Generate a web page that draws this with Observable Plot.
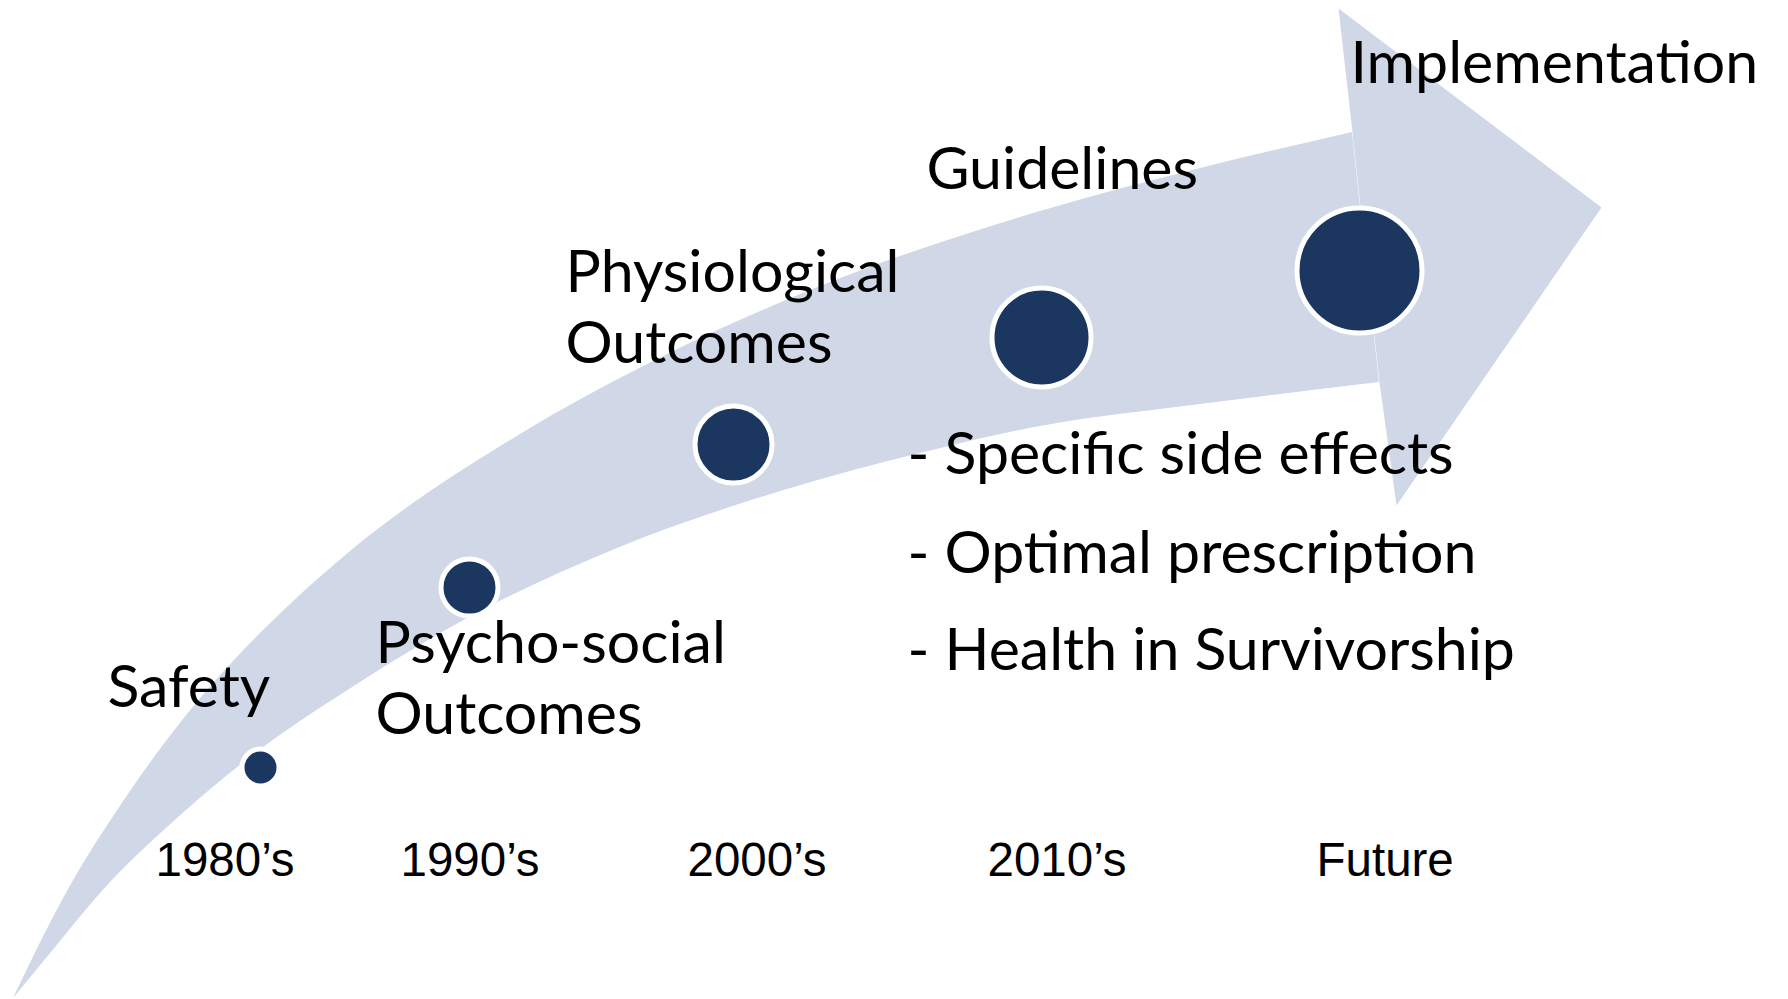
<!DOCTYPE html>
<html>
<head>
<meta charset="utf-8">
<script src="https://cdn.jsdelivr.net/npm/d3@7"></script>
<script src="https://cdn.jsdelivr.net/npm/@observablehq/plot@0.6"></script>
<style>
  html, body { margin: 0; padding: 0; background: #ffffff; }
  #chart svg { display: block; }
</style>
</head>
<body>
<div id="chart"></div>
<script>
// ---- Data (frame of 1788 × 999, y pointing down) ----
// Curved arrow: upper and lower edges of the shaft, then the arrow head
const upperEdgeX = [13, 62, 130, 187, 233, 290, 350, 520, 653, 820, 1040, 1200, 1352];
const upperEdgeY = [998, 900, 791, 714, 661, 604, 551, 434, 361, 286, 211, 168, 132];
const lowerEdgeX = [13, 60, 100, 177, 250, 360, 467, 617, 787, 920, 1040, 1200, 1379];
const lowerEdgeY = [998, 941, 893, 818, 757, 682, 618, 548, 489, 453, 426, 404, 382];
const headX = [1352, 1338, 1601, 1396, 1379];
const headY = [132, 8, 207, 505, 382];

// Timeline periods
const periods = ["1980’s", "1990’s", "2000’s", "2010’s", "Future"];
const periodX = [155, 400, 687, 987, 1316];
const periodY = [875, 875, 875, 875, 875];

// Milestones (circles grow over time)
const milestones = ["Safety", "Psycho-social\nOutcomes", "Physiological\nOutcomes", "Guidelines", "Implementation"];
const milestoneX = [260, 469, 733, 1041, 1359];
const milestoneY = [767, 587, 444, 337, 270];
const milestoneSize = [16, 26, 36, 47, 60];
const labelX = [107, 375, 565, 926, 1350];
const labelY = [706, 733, 362, 188, 82];

// Bullet list under "Guidelines"
const bullets = ["- Specific side effects", "- Optimal prescription", "- Health in Survivorship"];
const bulletX = [907, 907, 907];
const bulletY = [473, 572, 669];

// ---- Build tables ----
const shaft = upperEdgeX.map((x, i) => ({x1: x, y1: upperEdgeY[i], x2: lowerEdgeX[i], y2: lowerEdgeY[i]}));
const head = headX.map((x, i) => ({x, y: headY[i]}));
const dots = milestones.map((m, i) => ({name: m, x: milestoneX[i], y: milestoneY[i], size: milestoneSize[i]}));
const labelRows = milestones.map((m, i) => ({text: m, x: labelX[i], y: labelY[i]}));
const periodRows = periods.map((p, i) => ({text: p, x: periodX[i], y: periodY[i]}));
const bulletRows = bullets.map((b, i) => ({text: b, x: bulletX[i], y: bulletY[i]}));

const arrowFill = "#D0D8E8";
const dotFill = "#1B375F";
const labelFont = "Lato, 'Open Sans', sans-serif";

const chart = Plot.plot({
  width: 1788,
  height: 999,
  margin: 0,
  x: {domain: [0, 1788], range: [0, 1788], axis: null},
  y: {domain: [0, 999], range: [0, 999], axis: null},
  r: {type: "identity"},
  style: {background: "#ffffff", overflow: "visible"},
  marks: [
    Plot.area(shaft, {x1: "x1", y1: "y1", x2: "x2", y2: "y2", fill: arrowFill, curve: "monotone-x"}),
    Plot.line(head, {x: "x", y: "y", fill: arrowFill, stroke: "none", curve: "linear-closed"}),
    Plot.dot(dots, {x: "x", y: "y", r: d => d.size + 2.5, fill: dotFill, stroke: "#ffffff", strokeWidth: 5}),
    Plot.text(labelRows, {x: "x", y: "y", text: "text", textAnchor: "start", lineAnchor: "bottom",
      lineHeight: 1.19, fontFamily: labelFont, fontSize: 59, fill: "#000000"}),
    Plot.text(bulletRows, {x: "x", y: "y", text: "text", textAnchor: "start", lineAnchor: "bottom",
      fontFamily: labelFont, fontSize: 59, fill: "#000000"}),
    Plot.text(periodRows, {x: "x", y: "y", text: "text", textAnchor: "start", lineAnchor: "bottom",
      fontFamily: "'Liberation Sans', Arial, sans-serif", fontSize: 47.5, fill: "#000000"})
  ]
});
document.getElementById("chart").appendChild(chart);
</script>
</body>
</html>
